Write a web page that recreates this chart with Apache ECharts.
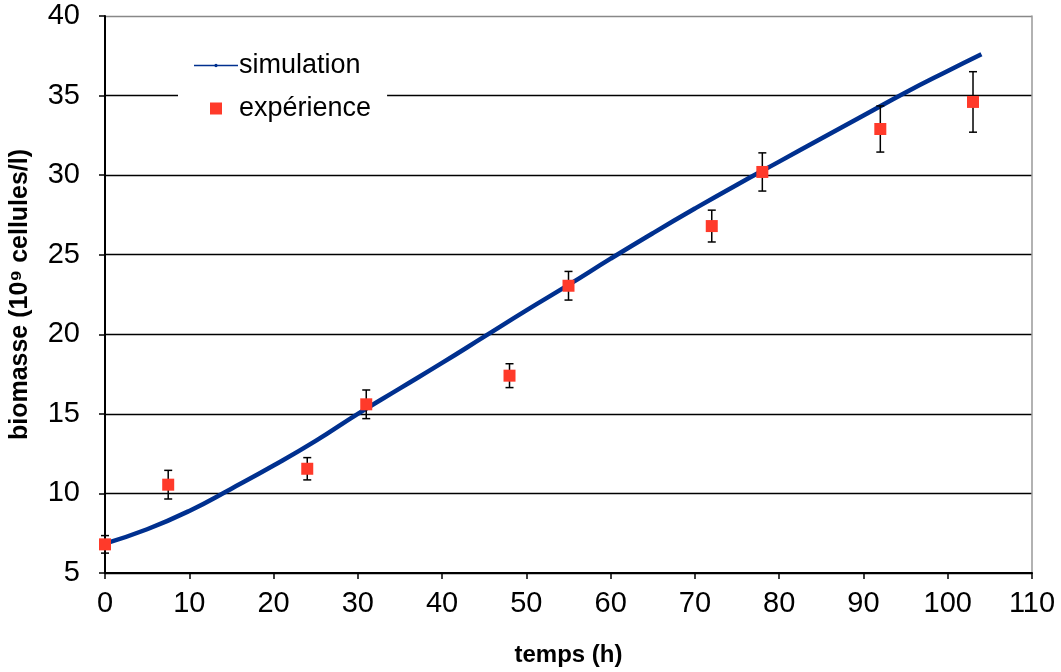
<!DOCTYPE html>
<html>
<head>
<meta charset="utf-8">
<script src="https://cdn.jsdelivr.net/npm/echarts@6/dist/echarts.min.js"></script>
<style>html,body{margin:0;padding:0;background:#fff}#c{width:1061px;height:672px}</style>
</head>
<body>
<div id="c"></div>
<script>
// simulation curve (time h, biomass 10^9 cells/l)
var simT = [0, 5, 10, 15, 20, 25, 30, 35, 40, 45, 50, 55, 60, 65, 70, 75, 80, 85, 90, 95, 100, 104];
var simY = [6.85, 7.75, 8.9, 10.3, 11.75, 13.3, 15.0, 16.6, 18.2, 19.85, 21.5, 23.1, 24.75, 26.35, 27.9, 29.4, 30.85, 32.3, 33.75, 35.2, 36.55, 37.6];
// experimental points
var expT = [0, 7.5, 24, 31, 48, 55, 72, 78, 92, 103];
var expY = [6.8, 10.55, 11.55, 15.6, 17.4, 23.05, 26.8, 30.2, 32.9, 34.6];
var expErr = [0.55, 0.9, 0.7, 0.9, 0.75, 0.9, 1.0, 1.2, 1.45, 1.9];
var xTicks = [0, 110, 10];
var yTicks = [5, 40, 5];

var simData = simT.map(function (t, i) { return [t, simY[i]]; });
var expData = expT.map(function (t, i) { return [t, expY[i]]; });
var errData = expT.map(function (t, i) { return [t, expY[i] - expErr[i], expY[i] + expErr[i]]; });

var chart = echarts.init(document.getElementById('c'));
var font = 'Liberation Sans, Arial, sans-serif';
chart.setOption({
  animation: false,
  backgroundColor: '#fff',
  grid: { left: 105, right: 29, top: 16, bottom: 98 },
  legend: {
    left: 178, top: 40,
    orient: 'vertical',
    backgroundColor: '#fff',
    padding: [12, 16, 12, 16],
    itemGap: 16,
    itemWidth: 44, itemHeight: 12,
    textStyle: { fontFamily: font, fontSize: 27, color: '#000', padding: [0, 0, 0, -4] },
    data: [
      { name: 'simulation', icon: 'path://M0,5.2 L44,5.2 L44,6.8 L0,6.8 Z M20.3,6 A1.7,1.7 0 1 1 23.7,6 A1.7,1.7 0 1 1 20.3,6 Z', itemStyle: { color: '#00308f' } },
      { name: 'expérience', icon: 'path://M16,0 L28,0 L28,12 L16,12 Z', itemStyle: { color: '#ff3a2a' } }
    ]
  },
  xAxis: {
    type: 'value', min: xTicks[0], max: xTicks[1], interval: xTicks[2],
    name: 'temps (h)', nameLocation: 'middle', nameGap: 70,
    nameTextStyle: { fontFamily: font, fontSize: 24, fontWeight: 'bold', color: '#000' },
    axisLine: { show: true, onZero: false, lineStyle: { color: '#000', width: 2 } },
    axisTick: { show: true, inside: false, length: 6, lineStyle: { color: '#000', width: 1.5 } },
    axisLabel: { fontFamily: font, fontSize: 29, color: '#000', margin: 16 },
    splitLine: { show: false }
  },
  yAxis: [{
    type: 'value', min: yTicks[0], max: yTicks[1], interval: yTicks[2],
    name: 'biomasse (10⁹ cellules/l)', nameLocation: 'middle', nameGap: 72,
    nameTextStyle: { fontFamily: font, fontSize: 25, fontWeight: 'bold', color: '#000' },
    axisLine: { show: true, lineStyle: { color: '#000', width: 2 } },
    axisTick: { show: true, inside: false, length: 6, lineStyle: { color: '#000', width: 1.5 } },
    axisLabel: { fontFamily: font, fontSize: 29, color: '#000', margin: 25 },
    splitLine: { show: true, lineStyle: { color: ['#000', '#000', '#000', '#000', '#000', '#000', '#000', '#888'], width: 1.3 } }
  }, {
    type: 'value', min: yTicks[0], max: yTicks[1], interval: yTicks[2], position: 'right',
    axisLine: { show: true, lineStyle: { color: '#999', width: 1.5 } },
    axisTick: { show: false }, axisLabel: { show: false }, splitLine: { show: false }
  }],
  series: [
    {
      name: 'simulation', type: 'line', data: simData, smooth: true,
      showSymbol: false, symbol: 'circle',
      lineStyle: { color: '#00308f', width: 4.5 }, itemStyle: { color: '#00308f' },
      z: 3
    },
    {
      name: 'errbars', type: 'custom', data: errData, z: 4,
      renderItem: function (params, api) {
        var x = api.value(0);
        var lo = api.coord([x, api.value(1)]);
        var hi = api.coord([x, api.value(2)]);
        var w = 4;
        var st = { stroke: '#000', lineWidth: 1.5 };
        return {
          type: 'group',
          children: [
            { type: 'line', shape: { x1: lo[0], y1: lo[1], x2: hi[0], y2: hi[1] }, style: st },
            { type: 'line', shape: { x1: lo[0] - w, y1: lo[1], x2: lo[0] + w, y2: lo[1] }, style: st },
            { type: 'line', shape: { x1: hi[0] - w, y1: hi[1], x2: hi[0] + w, y2: hi[1] }, style: st }
          ]
        };
      }
    },
    {
      name: 'expérience', type: 'scatter', data: expData, symbol: 'rect', symbolSize: 12,
      itemStyle: { color: '#ff3a2a', opacity: 1 }, z: 5
    }
  ]
});
</script>
</body>
</html>
